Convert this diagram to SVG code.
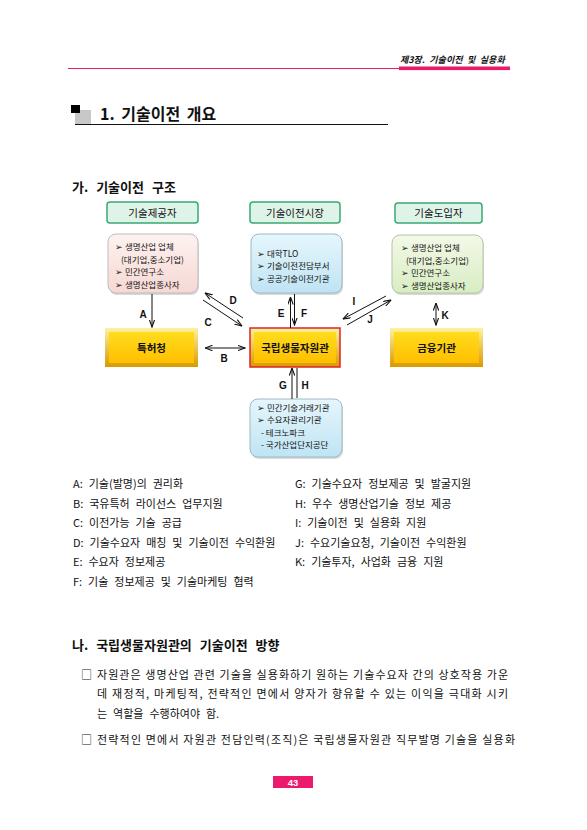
<svg xmlns="http://www.w3.org/2000/svg" width="587" height="830" viewBox="0 0 587 830">
<style>
text{font-family:"Noto Sans CJK KR","Liberation Sans",sans-serif;fill:#111}
.hdr{font-size:9px;font-style:italic;font-weight:bold;word-spacing:2.5px}
.h1{font-size:16px;font-weight:bold;word-spacing:3px}
.h2{font-size:13px;font-weight:bold;word-spacing:5px}
.lg{font-size:11px;word-spacing:3.5px}
.body{font-size:11px}
.cap{font-size:10.5px;text-anchor:middle}
.gold{font-size:10.5px;font-weight:bold;text-anchor:middle}
.bl{font-size:8.5px}
.lbl{font-family:"Liberation Sans",sans-serif;font-size:10px;font-weight:bold;text-anchor:middle}
.ln{stroke:#111;stroke-width:1;fill:none}
.hbox{fill:#dff4e8;stroke:#3aa872;stroke-width:1.5}
</style>
<defs>
<marker id="ah" viewBox="0 0 8 6" refX="7.5" refY="3" markerWidth="8" markerHeight="6" markerUnits="userSpaceOnUse" orient="auto-start-reverse">
<path d="M0,0.3 L7.5,3 L0,5.7" fill="none" stroke="#111" stroke-width="1.1"/>
</marker>
<linearGradient id="gPink" x1="0" y1="0" x2="0" y2="1"><stop offset="0" stop-color="#fdf2f0"/><stop offset="1" stop-color="#f6d8d3"/></linearGradient>
<linearGradient id="gBlue" x1="0" y1="0" x2="0" y2="1"><stop offset="0" stop-color="#e6f6fc"/><stop offset="1" stop-color="#bfe4f3"/></linearGradient>
<linearGradient id="gGreen" x1="0" y1="0" x2="0" y2="1"><stop offset="0" stop-color="#f3f9e8"/><stop offset="1" stop-color="#d8edc2"/></linearGradient>
<linearGradient id="gGold" x1="0" y1="0" x2="0" y2="1"><stop offset="0" stop-color="#ffdc1e"/><stop offset="1" stop-color="#ffbf00"/></linearGradient>
<linearGradient id="gGoldEdge" x1="0" y1="0" x2="0" y2="1"><stop offset="0" stop-color="#fff1a0"/><stop offset="1" stop-color="#d89a00"/></linearGradient>
</defs>
<rect width="587" height="830" fill="#ffffff"/>

<!-- page header -->
<g id="page-header">
<line x1="68" y1="68.5" x2="400" y2="68.5" stroke="#ec1a6c" stroke-width="1"/>
<rect x="399" y="66.5" width="111" height="3.6" fill="#ec1a6c"/>
<text class="hdr" x="400" y="63">제3장. 기술이전 및 실용화</text>
</g>

<!-- title -->
<g id="title">
<rect x="75" y="110" width="16" height="14" fill="#c8c8c8"/>
<rect x="71" y="105" width="9" height="8" fill="#000"/>
<text class="h1" x="100" y="120">1. 기술이전 개요</text>
<line x1="75" y1="124.5" x2="388" y2="124.5" stroke="#111" stroke-width="1"/>
</g>

<text class="h2" x="72" y="192">가. 기술이전 구조</text>

<!-- header boxes -->
<g id="hdr-provider">
<rect class="hbox" x="107" y="202" width="91" height="21" rx="3"/>
<text class="cap" x="152.5" y="216.5">기술제공자</text>
</g>
<g id="hdr-market">
<rect class="hbox" x="250" y="202" width="90" height="21" rx="3"/>
<text class="cap" x="295" y="216.5">기술이전시장</text>
</g>
<g id="hdr-adopter">
<rect class="hbox" x="395" y="203" width="87" height="20" rx="3"/>
<text class="cap" x="438.5" y="217">기술도입자</text>
</g>

<!-- content boxes -->
<g id="box-provider">
<rect x="109" y="236" width="90" height="59" rx="8" fill="#d9d9d9"/>
<rect x="108" y="234" width="90" height="59" rx="8" fill="url(#gPink)" stroke="#bdbdbd" stroke-width="1"/>
<text class="bl"><tspan x="115" y="250">➢ 생명산업 업체</tspan><tspan x="121" y="262.5">(대기업,중소기업)</tspan><tspan x="115" y="275">➢ 민간연구소</tspan><tspan x="115" y="287.5">➢ 생명산업종사자</tspan></text>
</g>
<g id="box-market">
<rect x="252" y="236" width="91" height="59" rx="8" fill="#d9d9d9"/>
<rect x="251" y="234" width="91" height="59" rx="8" fill="url(#gBlue)" stroke="#9fb9c4" stroke-width="1"/>
<text class="bl"><tspan x="257" y="256.5">➢ 대학TLO</tspan><tspan x="257" y="269">➢ 기술이전전담부서</tspan><tspan x="257" y="281.5">➢ 공공기술이전기관</tspan></text>
</g>
<g id="box-adopter">
<rect x="393" y="237" width="91" height="58" rx="8" fill="#d9d9d9"/>
<rect x="392" y="235" width="91" height="58" rx="8" fill="url(#gGreen)" stroke="#b5c6a5" stroke-width="1"/>
<text class="bl"><tspan x="401" y="251">➢ 생명산업 업체</tspan><tspan x="406" y="263.5">(대기업,중소기업)</tspan><tspan x="401" y="276">➢ 민간연구소</tspan><tspan x="401" y="288.5">➢ 생명산업종사자</tspan></text>
</g>
<g id="box-bottom">
<rect x="251" y="401" width="92" height="58" rx="8" fill="#d9d9d9"/>
<rect x="250" y="399" width="92" height="58" rx="8" fill="url(#gBlue)" stroke="#9fb9c4" stroke-width="1"/>
<text class="bl"><tspan x="257" y="410.5">➢ 민간기술거래기관</tspan><tspan x="257" y="423">➢ 수요자관리기관</tspan><tspan x="261" y="435.5">- 테크노파크</tspan><tspan x="261" y="448">- 국가산업단지공단</tspan></text>
</g>

<!-- gold boxes -->
<g id="box-patent">
<rect x="105" y="328" width="93" height="39" fill="url(#gGoldEdge)"/>
<rect x="109" y="332" width="85" height="31" fill="url(#gGold)"/>
<text class="gold" x="151.5" y="351.5">특허청</text>
</g>
<g id="box-nibr">
<rect x="250" y="328" width="90" height="39" fill="url(#gGoldEdge)" stroke="#e02424" stroke-width="1.5"/>
<rect x="254" y="332" width="82" height="31" fill="url(#gGold)"/>
<text class="gold" x="295" y="351.5">국립생물자원관</text>
</g>
<g id="box-finance">
<rect x="390" y="328" width="93" height="39" fill="url(#gGoldEdge)"/>
<rect x="394" y="332" width="85" height="31" fill="url(#gGold)"/>
<text class="gold" x="436.5" y="351.5">금융기관</text>
</g>

<!-- connectors -->
<g id="connectors">
<line class="ln" x1="152" y1="294" x2="152" y2="327" marker-end="url(#ah)"/>
<line class="ln" x1="205" y1="348" x2="245" y2="348" marker-start="url(#ah)" marker-end="url(#ah)"/>
<line class="ln" x1="243" y1="318" x2="205" y2="293" marker-end="url(#ah)"/>
<line class="ln" x1="203" y1="300" x2="242" y2="326" marker-end="url(#ah)"/>
<line class="ln" x1="290.5" y1="328" x2="290.5" y2="297" marker-end="url(#ah)"/>
<line class="ln" x1="294.5" y1="294" x2="294.5" y2="325" marker-end="url(#ah)"/>
<line class="ln" x1="386" y1="296" x2="343" y2="319" marker-end="url(#ah)"/>
<line class="ln" x1="347" y1="325" x2="391" y2="300" marker-end="url(#ah)"/>
<line class="ln" x1="436" y1="303" x2="436" y2="325" marker-start="url(#ah)" marker-end="url(#ah)"/>
<line class="ln" x1="292" y1="399" x2="292" y2="368" marker-end="url(#ah)"/>
<line class="ln" x1="297" y1="368" x2="297" y2="398"/>
<text class="lbl" x="143" y="318">A</text>
<text class="lbl" x="224" y="362">B</text>
<text class="lbl" x="208" y="326">C</text>
<text class="lbl" x="233" y="304">D</text>
<text class="lbl" x="281" y="317">E</text>
<text class="lbl" x="304" y="317">F</text>
<text class="lbl" x="283" y="389">G</text>
<text class="lbl" x="305" y="389">H</text>
<text class="lbl" x="354" y="305">I</text>
<text class="lbl" x="370" y="323">J</text>
<text class="lbl" x="445" y="319">K</text>
</g>

<!-- legend -->
<g id="legend">
<text class="lg" x="73" y="488">A: 기술(발명)의 권리화</text>
<text class="lg" x="73" y="507.5">B: 국유특허 라이선스 업무지원</text>
<text class="lg" x="73" y="527">C: 이전가능 기술 공급</text>
<text class="lg" x="73" y="546.5">D: 기술수요자 매칭 및 기술이전 수익환원</text>
<text class="lg" x="73" y="566">E: 수요자 정보제공</text>
<text class="lg" x="73" y="585.5">F: 기술 정보제공 및 기술마케팅 협력</text>
<text class="lg" x="295" y="488">G: 기술수요자 정보제공 및 발굴지원</text>
<text class="lg" x="295" y="507.5">H: 우수 생명산업기술 정보 제공</text>
<text class="lg" x="295" y="527">I:  기술이전 및 실용화 지원</text>
<text class="lg" x="295" y="546.5">J:  수요기술요청, 기술이전 수익환원</text>
<text class="lg" x="295" y="566">K: 기술투자, 사업화 금융 지원</text>
</g>

<text class="h2" x="72" y="650">나. 국립생물자원관의 기술이전 방향</text>

<g id="paragraphs">
<text class="body" x="81" y="679">□</text>
<text class="body" x="97" y="679" textLength="411" lengthAdjust="spacing">자원관은 생명산업 관련 기술을 실용화하기 원하는 기술수요자 간의 상호작용 가운</text>
<text class="body" x="97" y="698" textLength="411" lengthAdjust="spacing">데 재정적, 마케팅적, 전략적인 면에서 양자가 향유할 수 있는 이익을 극대화 시키</text>
<text class="body" x="97" y="717.5" style="word-spacing:3.5px">는 역할을 수행하여야 함.</text>
<text class="body" x="81" y="744">□</text>
<text class="body" x="97" y="744" textLength="418" lengthAdjust="spacing">전략적인 면에서 자원관 전담인력(조직)은 국립생물자원관 직무발명 기술을 실용화</text>
</g>

<g id="page-number">
<rect x="273" y="776" width="40" height="12" fill="#ec1a6c"/>
<text x="293" y="785.5" font-size="9.5" font-weight="bold" text-anchor="middle" style="fill:#fff;font-family:'Liberation Sans',sans-serif">43</text>
</g>
</svg>
